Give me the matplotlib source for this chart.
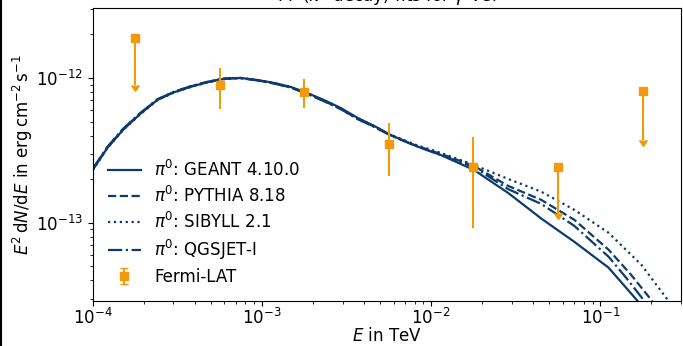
import matplotlib.pyplot as plt
import matplotlib.lines as mlines
import numpy as np

# ---------------- DATA ----------------
# energies in TeV, fluxes E^2 dN/dE in erg cm^-2 s^-1
e_low = [1.0e-4, 1.22e-4, 1.51e-4, 1.91e-4, 2.41e-4, 3.0e-4, 3.77e-4, 4.7e-4, 5.91e-4, 7.46e-4,
         9.41e-4, 1.18e-3, 1.48e-3, 1.85e-3, 2.32e-3, 2.92e-3, 3.68e-3, 4.6e-3, 5.77e-3, 8.1e-3]
e_high = [1.14e-2, 1.79e-2, 2.85e-2, 4.48e-2, 7.02e-2, 0.112]

geant_e = e_low + e_high + [0.164, 0.200]
geant_f = [2.32e-13, 3.29e-13, 4.38e-13, 5.65e-13, 7.05e-13, 7.94e-13, 8.67e-13, 9.31e-13, 9.84e-13, 1.0e-12,
           9.68e-13, 9.24e-13, 8.67e-13, 7.88e-13, 7.05e-13, 6.21e-13, 5.30e-13, 4.67e-13, 4.04e-13, 3.40e-13,
           2.94e-13, 2.32e-13, 1.61e-13, 1.07e-13, 7.40e-14, 4.90e-14, 2.94e-14, 2.2e-14]

pythia_e = e_low + e_high + [0.152, 0.200, 0.245]
pythia_f = [2.34e-13, 3.31e-13, 4.42e-13, 5.70e-13, 7.10e-13, 7.98e-13, 8.72e-13, 9.35e-13, 9.88e-13, 1.0e-12,
            9.62e-13, 9.18e-13, 8.60e-13, 7.80e-13, 6.95e-13, 6.12e-13, 5.22e-13, 4.62e-13, 4.02e-13, 3.42e-13,
            2.99e-13, 2.47e-13, 1.80e-13, 1.44e-13, 1.05e-13, 6.52e-14, 4.38e-14, 2.94e-14, 2.14e-14]

sibyll_e = e_low + e_high + [0.175, 0.245, 0.301]
sibyll_f = [2.30e-13, 3.27e-13, 4.36e-13, 5.62e-13, 7.02e-13, 7.90e-13, 8.64e-13, 9.28e-13, 9.80e-13, 9.98e-13,
            9.66e-13, 9.22e-13, 8.64e-13, 7.85e-13, 7.00e-13, 6.17e-13, 5.26e-13, 4.66e-13, 4.05e-13, 3.46e-13,
            3.04e-13, 2.51e-13, 2.01e-13, 1.64e-13, 1.23e-13, 8.53e-14, 5.13e-14, 3.04e-14, 2.2e-14]

qgsjet_e = e_low + e_high + [0.142, 0.180, 0.214]
qgsjet_f = [2.36e-13, 3.34e-13, 4.45e-13, 5.72e-13, 7.12e-13, 8.00e-13, 8.75e-13, 9.37e-13, 9.90e-13, 1.0e-12,
            9.60e-13, 9.15e-13, 8.58e-13, 7.78e-13, 6.92e-13, 6.10e-13, 5.20e-13, 4.60e-13, 4.00e-13, 3.40e-13,
            2.94e-13, 2.43e-13, 1.71e-13, 1.35e-13, 9.53e-14, 5.83e-14, 4.18e-14, 2.94e-14, 2.2e-14]

fermi_e = [1.78e-4, 5.62e-4, 1.78e-3, 5.62e-3, 1.78e-2, 5.62e-2, 1.78e-1]
fermi_f = [1.89e-12, 8.95e-13, 8.0e-13, 3.5e-13, 2.43e-13, 2.43e-13, 8.1e-13]
fermi_lo = [8.95e-13, 6.1e-13, 6.2e-13, 2.11e-13, 9.2e-14, 1.17e-13, 3.73e-13]
fermi_hi = [1.89e-12, 1.17e-12, 9.85e-13, 4.9e-13, 3.92e-13, 2.43e-13, 8.1e-13]
fermi_ul = [True, False, False, False, False, True, True]

navy = '#0c3b6c'
orange = '#f39a0c'

# ---------------- PLOT ----------------
fig = plt.figure(figsize=(6.83, 3.46), dpi=100)
ax = fig.add_axes([92.7/683, (346-300.7)/346, (681-92.7)/683, (300.7-8)/346])

ax.plot(geant_e, geant_f, color=navy, lw=1.6, ls='-', label=r'$\pi^0$: GEANT 4.10.0')
ax.plot(pythia_e, pythia_f, color=navy, lw=1.6, ls='--', label=r'$\pi^0$: PYTHIA 8.18')
ax.plot(sibyll_e, sibyll_f, color=navy, lw=1.6, ls=':', label=r'$\pi^0$: SIBYLL 2.1')
ax.plot(qgsjet_e, qgsjet_f, color=navy, lw=1.6, ls='-.', label=r'$\pi^0$: QGSJET-I')

f = np.array(fermi_f)
yerr = [f - np.array(fermi_lo), np.array(fermi_hi) - f]
ax.errorbar(fermi_e, fermi_f, yerr=yerr, uplims=np.array(fermi_ul), fmt='s',
            color=orange, ms=6, elinewidth=1.5, label='Fermi-LAT')

ax.set_xscale('log')
ax.set_yscale('log')
ax.set_xlim(1e-4, 0.3)
ax.set_ylim(2.9e-14, 3.04e-12)
ax.tick_params(labelsize=12)
ax.tick_params(axis='x', which='major', pad=2)
ax.set_xlabel(r'$E$ in TeV', fontsize=12, labelpad=-1)
ax.set_ylabel(r'$E^2\,\mathrm{d}N/\mathrm{d}E$ in $\mathrm{erg\,cm^{-2}\,s^{-1}}$', fontsize=12, labelpad=1)
ax.set_title(r'PP ($\pi^0$ decay) fits for $\gamma$-Vel', fontsize=12, pad=3)
ax.legend(loc='lower left', fontsize=12, frameon=False, labelspacing=0.35)

# thin dark border on the left edge of the picture
fig.add_artist(mlines.Line2D([0.001, 0.001], [0, 1], color='black', lw=1.5,
                             transform=fig.transFigure))

fig.savefig('out.png', dpi=100)
